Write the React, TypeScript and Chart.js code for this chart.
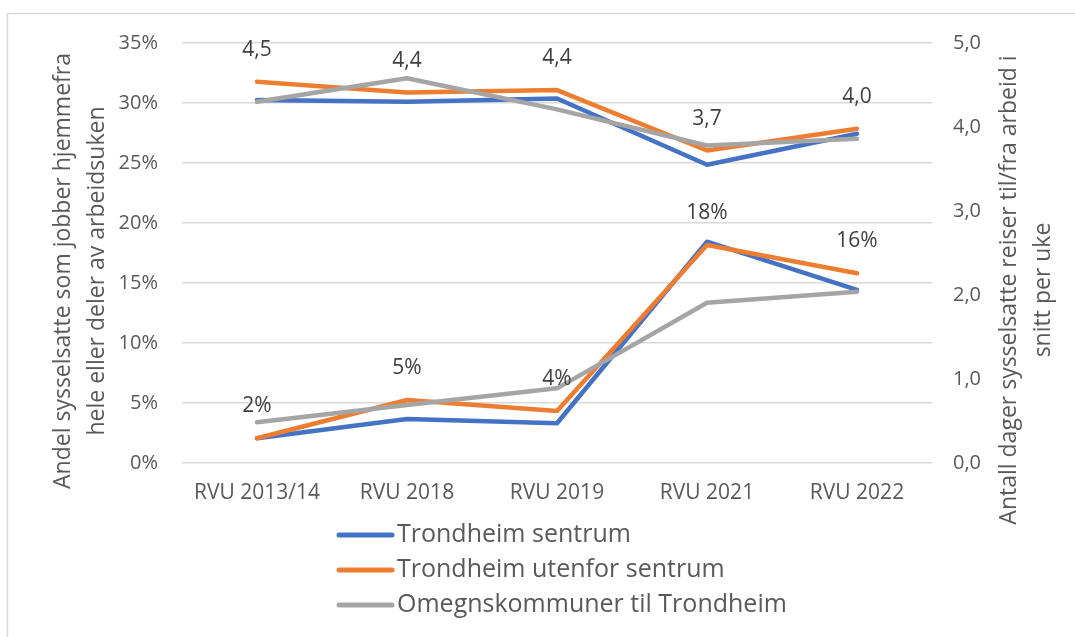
import React, { useEffect, useRef } from 'react';
import { Chart, registerables } from 'chart.js';

Chart.register(...registerables);

const categories = ['RVU 2013/14', 'RVU 2018', 'RVU 2019', 'RVU 2021', 'RVU 2022'];
const seriesNames = ['Trondheim sentrum', 'Trondheim utenfor sentrum', 'Omegnskommuner til Trondheim'];
const seriesColors = ['#4472C4', '#ED7D31', '#A5A5A5'];

// Share working from home (%), left axis
const sentrumHjemme = [2.06, 3.67, 3.31, 18.44, 14.42];
const utenforHjemme = [2.06, 5.25, 4.33, 18.17, 15.81];
const omegnHjemme = [3.39, 4.83, 6.22, 13.36, 14.28];

// Days commuting per week, right axis
const sentrumDager = [4.32, 4.3, 4.34, 3.55, 3.92];
const utenforDager = [4.54, 4.41, 4.44, 3.72, 3.98];
const omegnDager = [4.3, 4.58, 4.21, 3.78, 3.86];

const leftMin = 0;
const leftMax = 35;
const leftStep = 5;
const rightMin = 0;
const rightMax = 5;
const rightStep = 1;

const leftTitle = ['Andel sysselsatte som jobber hjemmefra', 'hele eller deler av arbeidsuken'];
const rightTitle = ['Antall dager sysselsatte reiser til/fra arbeid i', 'snitt per uke'];

const FONT = "'Open Sans', sans-serif";
const TEXT = '#595959';

const decoPlugin = {
  id: 'deco',
  beforeDraw(chart: any) {
    const ctx = chart.ctx;
    ctx.save();
    ctx.fillStyle = '#ffffff';
    ctx.fillRect(0, 0, chart.width, chart.height);
    ctx.strokeStyle = '#D9D9D9';
    ctx.lineWidth = 1.5;
    ctx.strokeRect(7.5, 13.5, chart.width + 20, chart.height + 20);
    ctx.restore();
  },
  afterDraw(chart: any) {
    const ctx = chart.ctx;
    ctx.save();
    // axis titles
    ctx.fillStyle = TEXT;
    ctx.font = `23px ${FONT}`;
    ctx.textAlign = 'center';
    ctx.textBaseline = 'middle';
    const drawRot = (txt: string, x: number, y: number) => {
      ctx.save();
      ctx.translate(x, y);
      ctx.rotate(-Math.PI / 2);
      ctx.fillText(txt, 0, 0);
      ctx.restore();
    };
    drawRot(leftTitle[0], 63, 271);
    drawRot(leftTitle[1], 97, 271);
    drawRot(rightTitle[0], 1009, 290);
    drawRot(rightTitle[1], 1043, 290);

    // data labels for orange series
    ctx.font = `21px ${FONT}`;
    ctx.fillStyle = '#404040';
    const labelSets = [
      { idx: 1, fmt: (v: number) => Math.round(v) + '%' },
      { idx: 4, fmt: (v: number) => v.toFixed(1).replace('.', ',') },
    ];
    labelSets.forEach(({ idx, fmt }) => {
      const meta = chart.getDatasetMeta(idx);
      const data = chart.data.datasets[idx].data as number[];
      meta.data.forEach((pt: any, i: number) => {
        ctx.fillText(fmt(data[i]), pt.x, pt.y - 32);
      });
    });

    // legend
    ctx.font = `25px ${FONT}`;
    ctx.textAlign = 'left';
    ctx.lineCap = 'round';
    ctx.lineWidth = 5;
    seriesNames.forEach((name, i) => {
      const y = 535 + i * 35;
      ctx.strokeStyle = seriesColors[i];
      ctx.beginPath();
      ctx.moveTo(339, y);
      ctx.lineTo(392, y);
      ctx.stroke();
      ctx.fillStyle = TEXT;
      ctx.fillText(name, 397, y);
    });
    ctx.restore();
  },
};

function makeDs(label: string, data: number[], color: string, axis: string, order: number) {
  return {
    label,
    data,
    borderColor: color,
    backgroundColor: color,
    borderWidth: 4.5,
    pointRadius: 0,
    tension: 0,
    borderCapStyle: 'round',
    borderJoinStyle: 'round',
    yAxisID: axis,
    order,
  };
}

export default function App() {
  const ref = useRef<HTMLCanvasElement | null>(null);
  useEffect(() => {
    if (!ref.current) return;
    const chart = new Chart(ref.current, {
      type: 'line',
      data: {
        labels: categories,
        datasets: [
          makeDs(seriesNames[0], sentrumHjemme, seriesColors[0], 'y', 2),
          makeDs(seriesNames[1], utenforHjemme, seriesColors[1], 'y', 1),
          makeDs(seriesNames[2], omegnHjemme, seriesColors[2], 'y', 0),
          makeDs(seriesNames[0], sentrumDager, seriesColors[0], 'y1', 2),
          makeDs(seriesNames[1], utenforDager, seriesColors[1], 'y1', 1),
          makeDs(seriesNames[2], omegnDager, seriesColors[2], 'y1', 0),
        ] as any,
      },
      options: {
        animation: false,
        responsive: false,
        maintainAspectRatio: false,
        layout: { padding: { top: 43, left: 0, right: 0, bottom: 0 } },
        plugins: {
          legend: { display: false },
          tooltip: { enabled: false },
        },
        scales: {
          x: {
            offset: true,
            grid: { display: false, drawTicks: false },
            border: { display: false },
            ticks: {
              padding: 17,
              color: TEXT,
              font: { family: FONT, size: 21 },
              maxRotation: 0,
              autoSkip: false,
            },
            afterFit: (s: any) => {
              s.height = 174;
            },
          },
          y: {
            position: 'left',
            min: leftMin,
            max: leftMax,
            grid: { color: '#D9D9D9', lineWidth: 1.5, drawTicks: false },
            border: { display: false },
            ticks: {
              stepSize: leftStep,
              padding: 24,
              color: TEXT,
              font: { family: FONT, size: 20 },
              callback: (v: any) => v + '%',
            },
            afterFit: (s: any) => {
              s.width = 182;
            },
          },
          y1: {
            position: 'right',
            min: rightMin,
            max: rightMax,
            grid: { display: false, drawTicks: false },
            border: { display: false },
            ticks: {
              stepSize: rightStep,
              padding: 21,
              color: TEXT,
              font: { family: FONT, size: 20 },
              callback: (v: any) => Number(v).toFixed(1).replace('.', ','),
            },
            afterFit: (s: any) => {
              s.width = 143;
            },
          },
        },
      } as any,
      plugins: [decoPlugin],
    });
    return () => chart.destroy();
  }, []);

  return (
    <div style={{ position: 'fixed', left: 0, top: 0, width: 1075, height: 637, background: '#fff' }}>
      <canvas ref={ref} width={1075} height={637} style={{ display: 'block' }} />
    </div>
  );
}
